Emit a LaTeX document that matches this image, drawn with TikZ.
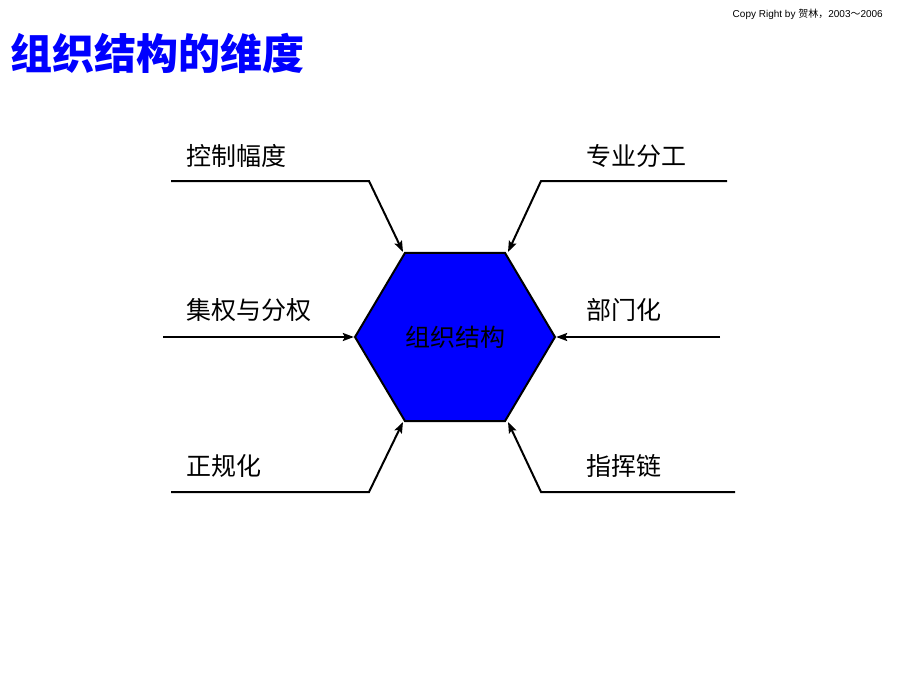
\documentclass[tikz,border=0pt]{standalone}
\usepackage{fontspec}
\setmainfont{Liberation Sans}
\newfontfamily\hei{Noto Sans CJK SC}
\usetikzlibrary{shapes.geometric,arrows.meta}

\begin{document}
\begin{tikzpicture}[x=1pt,y=-1pt,
  lead/.style={line width=2pt,-{Stealth[length=11pt,width=8pt,inset=2pt]}},
  dim/.style={font=\hei\fontsize{25}{25}\selectfont,anchor=west,inner sep=0pt}]
  \useasboundingbox (0,0) rectangle (920,690);
  \node[anchor=east,inner sep=0pt,font=\fontsize{10}{11}\selectfont] (copy) at (883,14)
        {Copy Right by {\hei 贺林，}2003{\hei ～}2006};
  \node[anchor=west,inner sep=0pt,text=blue,font=\hei\bfseries\fontsize{42}{42}\selectfont] (title) at (10,53)
        {组织结构的维度};
  % the hexagon
  \begin{scope}[shift={(455,337)},yscale=0.971,transform shape]
    \node[regular polygon,regular polygon sides=6,minimum size=200pt,inner sep=0pt,
          draw,line width=2pt,fill=blue,font=\hei\fontsize{25}{25}\selectfont] (hex) at (0,0) {组织结构};
  \end{scope}
  % labels
  \node[dim] (span) at (186,156) {控制幅度};
  \node[dim] (spec) at (586,156) {专业分工};
  \node[dim] (cent) at (186,310) {集权与分权};
  \node[dim] (dept) at (586,310) {部门化};
  \node[dim] (form) at (186,466) {正规化};
  \node[dim] (chain) at (586,466) {指挥链};
  % connectors
  \coordinate (s1) at (171,181); \coordinate (k1) at (369,181); \coordinate (t1) at (403,252);
  \coordinate (s2) at (727,181); \coordinate (k2) at (541,181); \coordinate (t2) at (508,252);
  \coordinate (s3) at (163,337);
  \coordinate (s4) at (720,337);
  \coordinate (s5) at (171,492); \coordinate (k5) at (369,492); \coordinate (t5) at (403,422);
  \coordinate (s6) at (735,492); \coordinate (k6) at (541,492); \coordinate (t6) at (508,422);
  \draw[lead] (s1) -- (k1) -- (t1);
  \draw[lead] (s2) -- (k2) -- (t2);
  \draw[lead] (s3) -- (s3 -| hex.west);
  \draw[lead] (s4) -- (s4 -| hex.east);
  \draw[lead] (s5) -- (k5) -- (t5);
  \draw[lead] (s6) -- (k6) -- (t6);
\end{tikzpicture}
\end{document}
